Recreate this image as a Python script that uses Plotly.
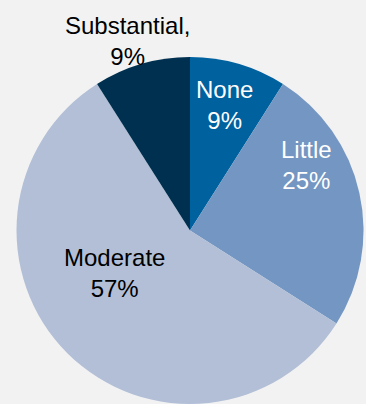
import math
import plotly.graph_objects as go

categories = ["None", "Little", "Moderate", "Substantial"]
values = [9, 25, 57, 9]
label_texts = ["None<br>9%", "Little<br>25%", "Moderate<br>57%", "Substantial,<br>9%"]

colors = ["#00619f", "#7396c2", "#b2bfd7", "#00304f"]
label_colors = ["white", "white", "black", "black"]
# label placement (style): radial fraction and angle shift (deg) from slice midpoint
label_r = [0.75, 0.77, 0.50, 1.15]
label_shift = [-1, -17, 16, -2]

W, H = 366, 404
cx, cy, R = 190, 230.5, 173.5

fig = go.Figure(go.Pie(
    labels=categories, values=values, sort=False, direction="clockwise",
    rotation=0, textinfo="none", hoverinfo="skip",
    marker=dict(colors=colors, line=dict(width=0)),
    domain=dict(x=[(cx - R) / W, (cx + R) / W], y=[0, (2 * R) / H]),
    showlegend=False,
))

total = sum(values)
cum = 0
annotations = []
for i, v in enumerate(values):
    mid = (cum + v / 2) / total * 360 + label_shift[i]
    cum += v
    a = math.radians(mid)
    px = cx + label_r[i] * R * math.sin(a)
    py = cy - label_r[i] * R * math.cos(a)
    annotations.append(dict(
        x=px / W, y=1 - py / H, xref="paper", yref="paper",
        text=label_texts[i], showarrow=False, xanchor="center", yanchor="middle",
        font=dict(family="Liberation Sans, Arial", size=24, color=label_colors[i]),
    ))

fig.update_layout(
    width=W, height=H, margin=dict(l=0, r=0, t=0, b=0),
    paper_bgcolor="#f2f2f2", plot_bgcolor="#f2f2f2",
    annotations=annotations,
)
fig.write_html("out.html")
